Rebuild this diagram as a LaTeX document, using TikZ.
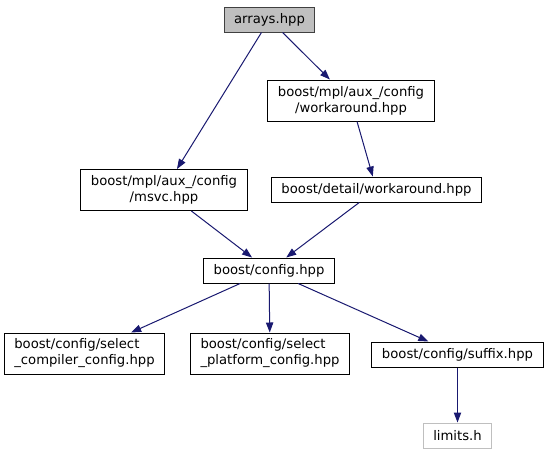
\documentclass[tikz,border=0pt]{standalone}
\usepackage{fontspec}
\setmainfont{DejaVu Sans}
\usepackage{tikz}
\usetikzlibrary{
    arrows.meta
}
\definecolor{edgeblue}{HTML}{191970}
\definecolor{rootgray}{HTML}{BFBFBF}
\definecolor{rootedge}{HTML}{404040}
\tikzset{
    line/.style = {
        line width = 0.75pt,
        draw = edgeblue,
        ->,
        > = {
            Triangle[length=7.5pt, width=5.5pt]
        }
    },
    % Included header:
    file node/.style = {
        rectangle,
        draw = black,
        line width = 0.75pt,
        fill = white,
        inner xsep = 7.5pt,
        inner ysep = 0pt,
        minimum height = 18.75pt,
        font = \fontsize{9.9pt}{12pt}\selectfont,
        align = center
    },
    % Name on two lines:
    long node/.style = {
        file node,
        minimum height = 30.75pt
    },
    % File of this graph:
    root node/.style = {
        file node,
        fill = rootgray,
        draw = rootedge
    },
    % System header:
    system node/.style = {
        file node,
        draw = rootgray
    }
}

\begin{document}
\begin{tikzpicture}[x=0.75pt, y=-0.75pt]
    \useasboundingbox (0, 0) rectangle (547, 455);
    \node [root node] (arrays) at (269.5, 19.5) {arrays.hpp};
    \node [long node] (mplwork) at (351, 100.5) {boost/mpl/aux\_/config\\/workaround.hpp};
    \node [long node] (msvc) at (164, 190) {boost/mpl/aux\_/config\\/msvc.hpp};
    \node [file node] (detailwork) at (376.5, 189.5) {boost/detail/workaround.hpp};
    \node [file node] (config) at (269, 270.5) {boost/config.hpp};
    \node [long node, align=left] (compiler) at (84.5, 353.5) {boost/config/select\\\_compiler\_config.hpp};
    \node [long node, align=left] (platform) at (270, 353.5) {boost/config/select\\\_platform\_config.hpp};
    \node [file node] (suffix) at (457.5, 354.5) {boost/config/suffix.hpp};
    \node [system node] (limits) at (457.5, 435.5) {limits.h};
    % Include edges.
    \draw [line] (arrays) -- (mplwork);
    \draw [line] (arrays) -- (msvc);
    \draw [line] (mplwork) -- (detailwork);
    \draw [line] (msvc) -- (config);
    \draw [line] (detailwork) -- (config);
    \draw [line] (config) -- (compiler);
    \draw [line] (config) -- (platform);
    \draw [line] (config) -- (suffix);
    \draw [line] (suffix) -- (limits);
\end{tikzpicture}
\end{document}
